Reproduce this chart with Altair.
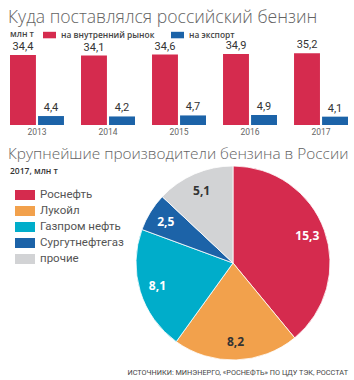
import altair as alt
import pandas as pd

# ---- data ----
years = ["2013", "2014", "2015", "2016", "2017"]
domestic = [34.4, 34.1, 34.6, 34.9, 35.2]
export = [4.4, 4.2, 4.7, 4.9, 4.1]
series = ["на внутренний рынок", "на экспорт"]
series_colors = ["#d52b4e", "#1c63a8"]

companies = ["Роснефть", "Лукойл", "Газпром нефть", "Сургутнефтегаз", "прочие"]
production = [15.3, 8.2, 8.1, 2.5, 5.1]
company_colors = ["#d52b4e", "#f2a14c", "#00adca", "#1c63a8", "#d2d3d5"]

title1 = "Куда поставлялся российский бензин"
unit1 = "млн т"
title2 = "Крупнейшие производители бензина в России"
unit2 = "2017, млн т"
source = "ИСТОЧНИКИ: МИНЭНЕРГО, «РОСНЕФТЬ» ПО ЦДУ ТЭК, РОССТАТ"


def fmt(v):
    return f"{v:.1f}".replace(".", ",")


rows = []
for y, d, e in zip(years, domestic, export):
    rows.append({"year": y, "series": series[0], "value": d, "label": fmt(d)})
    rows.append({"year": y, "series": series[1], "value": e, "label": fmt(e)})
bar_df = pd.DataFrame(rows)
year_df = pd.DataFrame({"year": years})
pie_df = pd.DataFrame({
    "company": companies,
    "value": production,
    "label": [fmt(v) for v in production],
    "idx": list(range(len(companies))),
})

HEAD = "Open Sans"
NARROW = "Liberation Sans Narrow, Roboto, sans-serif"

xenc = alt.X("year:N", sort=years,
             scale=alt.Scale(range=[10, 348], paddingInner=0.24, paddingOuter=0),
             axis=None)
xoff = alt.XOffset("series:N", sort=series,
                   scale=alt.Scale(paddingInner=0.075, paddingOuter=0))
# baseline at 125 px, ~2.035 px per unit
yenc = alt.Y("value:Q", scale=alt.Scale(domain=[0, 40], range=[125, 43.6]), axis=None)

bars = alt.Chart(bar_df).mark_bar().encode(
    x=xenc, xOffset=xoff, y=yenc, y2=alt.datum(0),
    color=alt.Color("series:N",
                    scale=alt.Scale(domain=series, range=series_colors),
                    legend=alt.Legend(
                        orient="none", legendX=10, legendY=28.5,
                        direction="horizontal", title=unit1, titleOrient="left",
                        titleFont=HEAD, titleFontSize=8.5, titleFontWeight=600,
                        titleColor="#444", titlePadding=9,
                        symbolType="M-1,-0.5H1V0.5H-1Z", symbolSize=169,
                        symbolStrokeWidth=0, symbolOpacity=1,
                        labelFont=HEAD, labelFontSize=8.4, labelFontWeight=600,
                        labelColor="#444", labelOffset=5, columnPadding=16,
                    )),
)

bar_labels = alt.Chart(bar_df).mark_text(
    dy=-8, font=NARROW, fontSize=11, color="#333", baseline="middle"
).encode(x=xenc, xOffset=xoff, y=yenc, text="label:N")

year_labels = alt.Chart(year_df).mark_text(
    dy=7, font=NARROW, fontSize=8.5, color="#666", baseline="middle"
).encode(x=xenc, y=alt.datum(0, type="quantitative"), text="year:N")

theta = alt.Theta("value:Q", stack=True)
order = alt.Order("idx:Q")

pie = alt.Chart(pie_df).mark_arc(outerRadius=97, stroke="white", strokeWidth=0.8).encode(
    theta=theta, order=order,
    x=alt.value(233), y=alt.value(263),
    color=alt.Color("company:N",
                    scale=alt.Scale(domain=companies, range=company_colors),
                    legend=alt.Legend(
                        orient="none", legendX=15, legendY=185,
                        direction="vertical", title=None,
                        symbolType="M-1,-0.5H1V0.5H-1Z", symbolSize=400,
                        symbolStrokeWidth=0, symbolOpacity=1,
                        labelFont=NARROW, labelFontSize=11.5, labelColor="#555",
                        labelOffset=5, rowPadding=-2.3,
                    )),
)

pie_labels = alt.Chart(pie_df).mark_text(
    radius=79, font=HEAD, fontSize=12, fontWeight="bold", baseline="middle"
).encode(
    theta=theta, order=order,
    x=alt.value(233), y=alt.value(263),
    text="label:N",
    color=alt.condition("datum.company == 'Лукойл' || datum.company == 'прочие'",
                        alt.value("#333"), alt.value("white")),
)


def heading(txt, x, y, size, font=HEAD, weight=300, color="#555", align="left"):
    return alt.Chart(pd.DataFrame({"t": [txt]})).mark_text(
        font=font, fontSize=size, fontWeight=weight, color=color,
        align=align, baseline="alphabetic"
    ).encode(x=alt.value(x), y=alt.value(y), text="t:N")


h1 = heading(title1, 8, 23, 17.6, color="#636363")
h2 = heading(title2, 8, 159, 15.4, color="#636363")
u2 = heading(unit2, 10, 174, 8.5, weight=600, color="#333")
src = heading(source, 348, 375, 7.3, font=NARROW, weight=400, color="#444", align="right")

chart = alt.layer(
    bars, bar_labels, year_labels, pie, pie_labels, h1, h2, u2, src
).resolve_scale(color="independent").properties(
    width=354, height=380, padding=0,
    autosize=alt.AutoSizeParams(type="none"),
).configure_view(stroke=None)

chart.save("out.html", embed_options={"renderer": "svg", "actions": False})
